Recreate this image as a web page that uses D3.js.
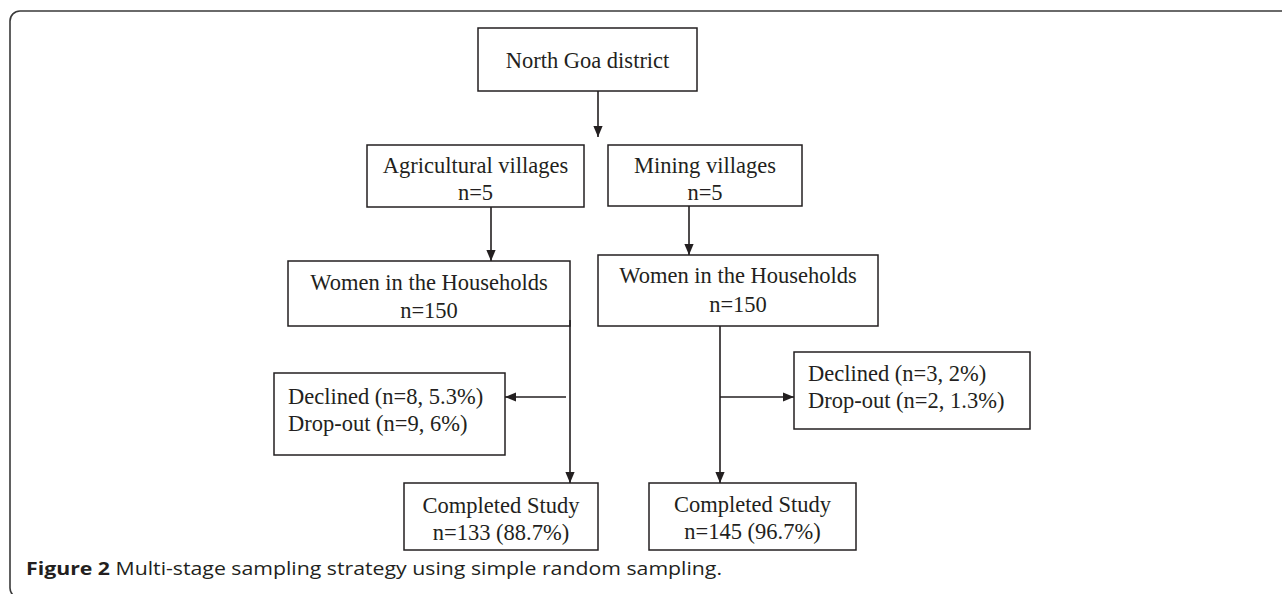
<!DOCTYPE html>
<html>
<head>
<meta charset="utf-8">
<script src="https://cdn.jsdelivr.net/npm/d3@7"></script>
<style>
  html, body { margin: 0; padding: 0; background: #fff; }
  svg { display: block; }
</style>
</head>
<body>
<script>
// ---- data ----
const nodeIds = ["district", "agri", "mining", "womenA", "womenM", "lossA", "lossM", "doneA", "doneM"];
const nodeLines = [
  ["North Goa district"],
  ["Agricultural villages", "n=5"],
  ["Mining villages", "n=5"],
  ["Women in the Households", "n=150"],
  ["Women in the Households", "n=150"],
  ["Declined (n=8, 5.3%)", "Drop-out (n=9, 6%)"],
  ["Declined (n=3, 2%)", "Drop-out (n=2, 1.3%)"],
  ["Completed Study", "n=133 (88.7%)"],
  ["Completed Study", "n=145 (96.7%)"]
];
const linkFrom = ["district", "agri", "mining", "womenA", "womenM", "womenA", "womenM"];
const linkTo   = ["agri", "womenA", "womenM", "doneA", "doneM", "lossA", "lossM"];
const captionBold = "Figure 2";
const captionText = " Multi-stage sampling strategy using simple random sampling.";

// ---- layout (positions/sizes, kept separate from data) ----
const W = 1282, H = 594;
const box = {
  district: {x0: 478, x1: 697, y0: 28,  y1: 91,  align: "middle", base: [68]},
  agri:     {x0: 367, x1: 584, y0: 145, y1: 207, align: "middle", base: [173, 200]},
  mining:   {x0: 608, x1: 802, y0: 145, y1: 206, align: "middle", base: [173, 200]},
  womenA:   {x0: 288, x1: 570, y0: 261, y1: 326, align: "middle", base: [290, 318]},
  womenM:   {x0: 598, x1: 878, y0: 255, y1: 326, align: "middle", base: [283, 312]},
  lossA:    {x0: 274, x1: 505, y0: 373, y1: 455, align: "start", tx: 288, base: [404, 431]},
  lossM:    {x0: 794, x1: 1030, y0: 352, y1: 429, align: "start", tx: 808, base: [381, 408]},
  doneA:    {x0: 404, x1: 598, y0: 483, y1: 550, align: "middle", base: [513, 540]},
  doneM:    {x0: 649, x1: 856, y0: 483, y1: 550, align: "middle", base: [512, 539]}
};
// connector geometry; each ends with an arrowhead
const route = {
  "district>agri":   [[598, 91], [598, 137]],
  "agri>womenA":     [[491, 207], [491, 261]],
  "mining>womenM":   [[689, 206], [689, 255]],
  "womenA>doneA":    [[570, 320], [570, 483]],
  "womenM>doneM":    [[720, 326], [720, 483]],
  "womenA>lossA":    [[566, 397], [505, 397]],
  "womenM>lossM":    [[720, 397], [794, 397]]
};

const ink = "#231f20";
const svg = d3.select("body").append("svg").attr("width", W).attr("height", H);

const defs = svg.append("defs");
defs.append("marker")
  .attr("id", "arrow")
  .attr("viewBox", "0 0 10 10")
  .attr("refX", 10).attr("refY", 5)
  .attr("markerWidth", 11).attr("markerHeight", 11)
  .attr("markerUnits", "userSpaceOnUse")
  .attr("orient", "auto")
  .append("path").attr("d", "M0,0.8 L10,5 L0,9.2 Z").attr("fill", ink);

// outer frame (rounded, open to the right/bottom edges)
svg.append("rect")
  .attr("x", 10).attr("y", 11)
  .attr("width", 1300).attr("height", 587)
  .attr("rx", 10).attr("ry", 10)
  .attr("fill", "none").attr("stroke", "#3a3a3a").attr("stroke-width", 1.6);

// connectors
const line = d3.line();
const links = linkFrom.map((f, i) => ({key: f + ">" + linkTo[i]})).filter(d => route[d.key]);
svg.append("g").selectAll("path").data(links).join("path")
  .attr("d", d => line(route[d.key]))
  .attr("fill", "none").attr("stroke", ink).attr("stroke-width", 1.6)
  .attr("marker-end", "url(#arrow)");

// boxes
const nodes = nodeIds.map((id, i) => ({id, lines: nodeLines[i], ...box[id]}));
const g = svg.append("g").selectAll("g").data(nodes).join("g");
g.append("rect")
  .attr("x", d => d.x0).attr("y", d => d.y0)
  .attr("width", d => d.x1 - d.x0).attr("height", d => d.y1 - d.y0)
  .attr("fill", "none").attr("stroke", ink).attr("stroke-width", 1.5);
g.each(function(d) {
  const sel = d3.select(this);
  d.lines.forEach((t, j) => {
    sel.append("text")
      .attr("x", d.align === "middle" ? (d.x0 + d.x1) / 2 : d.tx)
      .attr("y", d.base[j])
      .attr("text-anchor", d.align)
      .attr("font-family", "'Liberation Serif', 'Times New Roman', serif")
      .attr("font-size", 22.5)
      .attr("fill", ink)
      .text(t);
  });
});

// caption
const cap = svg.append("text")
  .attr("x", 26).attr("y", 575)
  .attr("font-family", "'Open Sans', 'Noto Sans', sans-serif")
  .attr("font-size", 17.5)
  .attr("fill", ink)
  .attr("textLength", 696).attr("lengthAdjust", "spacingAndGlyphs");
cap.append("tspan").attr("font-weight", "bold").text(captionBold);
cap.append("tspan").text(captionText);
</script>
</body>
</html>
